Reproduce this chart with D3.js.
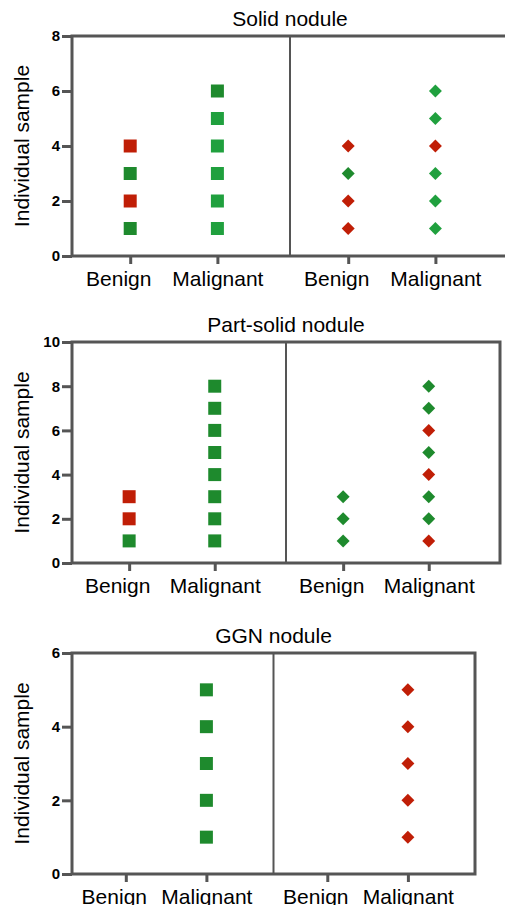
<!DOCTYPE html>
<html>
<head>
<meta charset="utf-8">
<script src="https://cdn.jsdelivr.net/npm/d3@7"></script>
<style>
  body { margin: 0; background: #fff; }
  svg { display: block; font-family: "Liberation Sans", Arial, Helvetica, sans-serif; }
</style>
</head>
<body>
<svg id="chart"></svg>
<script>
// Categories and panel titles
var groups = ["Benign", "Malignant"];
var titles = ["Solid nodule", "Part-solid nodule", "GGN nodule"];
var yMax = [8, 10, 6];
var yTicks = [[0, 2, 4, 6, 8], [0, 2, 4, 6, 8, 10], [0, 2, 4, 6]];

// Colour code of each individual sample (sample n sits at y = n)
// R = red, D = dark green, G = light green
var solidSquareBenign = ["D", "R", "D", "R"];
var solidSquareMalignant = ["G", "G", "G", "G", "G", "D"];
var solidDiamondBenign = ["R", "R", "D", "R"];
var solidDiamondMalignant = ["G", "G", "G", "R", "G", "G"];
var partSquareBenign = ["D", "R", "R"];
var partSquareMalignant = ["D", "D", "D", "D", "D", "D", "D", "D"];
var partDiamondBenign = ["D", "D", "D"];
var partDiamondMalignant = ["R", "D", "D", "R", "D", "R", "D", "D"];
var ggnSquareBenign = [];
var ggnSquareMalignant = ["D", "D", "D", "D", "D"];
var ggnDiamondBenign = [];
var ggnDiamondMalignant = ["R", "R", "R", "R", "R"];

var squares = [
    [solidSquareBenign, solidSquareMalignant],
    [partSquareBenign, partSquareMalignant],
    [ggnSquareBenign, ggnSquareMalignant]
];
var diamonds = [
    [solidDiamondBenign, solidDiamondMalignant],
    [partDiamondBenign, partDiamondMalignant],
    [ggnDiamondBenign, ggnDiamondMalignant]
];

var colors = { R: "#c01e06", D: "#1e8a2d", G: "#20a03e" };
var axisColor = "#555";
var fontFamily = "'Liberation Sans', Arial, Helvetica, sans-serif";

// Frame of each panel in page pixels
var frames = [
    { left: 72, top: 36, right: 508, bottom: 256 },
    { left: 72, top: 342, right: 500, bottom: 563 },
    { left: 72, top: 653, right: 475, bottom: 874 }
];

var svg = d3.select("#chart")
    .attr("width", 505)
    .attr("height", 905);

frames.forEach(function(f, p) {
    var g = svg.append("g");
    var mid = (f.left + f.right) / 2;

    var y = d3.scaleLinear()
        .domain([0, yMax[p]])
        .range([f.bottom, f.top]);

    // one point scale per half
    var xLeft = d3.scalePoint().domain(groups)
        .range([f.left, mid]).padding(0.75).align(0.445);
    var xRight = d3.scalePoint().domain(groups)
        .range([mid, f.right]).padding(0.75).align(0.445);

    // title
    g.append("text")
        .attr("x", mid)
        .attr("y", f.top - 10)
        .attr("text-anchor", "middle")
        .style("font-size", "21px")
        .text(titles[p]);

    // y axis title
    g.append("text")
        .attr("transform", "translate(29," + ((f.top + f.bottom) / 2) + ") rotate(-90)")
        .attr("text-anchor", "middle")
        .style("font-size", "21px")
        .text("Individual sample");

    // y axis
    var yAxis = g.append("g")
        .attr("transform", "translate(" + f.left + ",0)")
        .attr("font-family", fontFamily)
        .call(d3.axisLeft(y).tickValues(yTicks[p]).tickFormat(d3.format("d"))
            .tickSize(10).tickSizeOuter(0).tickPadding(2));
    yAxis.select(".domain").remove();
    yAxis.selectAll("line").attr("stroke", axisColor).attr("stroke-width", 3);
    yAxis.selectAll("text")
        .style("font-size", "15px")
        .style("font-weight", "bold")
        .attr("fill", "#000");

    // x axes for both halves
    [xLeft, xRight].forEach(function(x) {
        var xAxis = g.append("g")
            .attr("transform", "translate(0," + f.bottom + ")")
            .attr("font-family", fontFamily)
            .call(d3.axisBottom(x).tickSize(8).tickSizeOuter(0).tickPadding(7));
        xAxis.select(".domain").remove();
        xAxis.selectAll("line").attr("stroke", axisColor).attr("stroke-width", 3);
        xAxis.selectAll("text")
            .style("font-size", "21px")
            .attr("fill", "#000")
            .attr("dx", function(d) { return d === "Benign" ? "-12" : "0"; });
    });

    // frame and divider
    g.append("rect")
        .attr("x", f.left)
        .attr("y", f.top)
        .attr("width", f.right - f.left)
        .attr("height", f.bottom - f.top)
        .attr("fill", "none")
        .attr("stroke", axisColor)
        .attr("stroke-width", 3);
    g.append("line")
        .attr("x1", mid).attr("x2", mid)
        .attr("y1", f.top).attr("y2", f.bottom)
        .attr("stroke", axisColor)
        .attr("stroke-width", 2);

    // squares (left half)
    groups.forEach(function(grp, i) {
        g.selectAll(".sq" + i)
            .data(squares[p][i])
            .enter().append("path")
            .attr("d", d3.symbol().type(d3.symbolSquare).size(169))
            .attr("transform", function(d, k) {
                return "translate(" + xLeft(grp) + "," + y(k + 1) + ")";
            })
            .attr("fill", function(d) { return colors[d]; });
    });

    // diamonds (right half)
    groups.forEach(function(grp, i) {
        g.selectAll(".dm" + i)
            .data(diamonds[p][i])
            .enter().append("path")
            .attr("d", d3.symbol().type(d3.symbolSquare).size(84))
            .attr("transform", function(d, k) {
                return "translate(" + xRight(grp) + "," + y(k + 1) + ") rotate(45)";
            })
            .attr("fill", function(d) { return colors[d]; });
    });
});
</script>
</body>
</html>
